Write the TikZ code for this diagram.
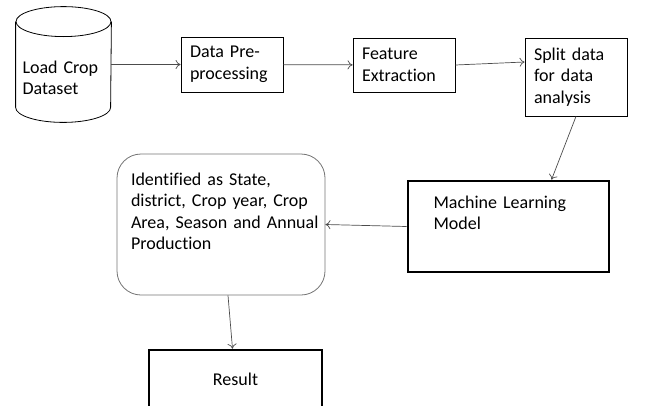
\documentclass[tikz,border=0pt]{standalone}
\usepackage{fontspec}
\setmainfont{Carlito}[Ligatures={NoCommon,NoContextual},WordSpace=0.75]
\usepackage{tikz}
\usetikzlibrary{shapes}
\usetikzlibrary{arrows.meta}
\definecolor{linegray}{rgb}{0.30,0.30,0.30}
\definecolor{roundgray}{rgb}{0.45,0.45,0.45}

\begin{document}
\begin{tikzpicture}[->,>={To[length=5pt,width=9pt]},linegray,line width=0.7pt,x=1pt,y=-1pt,font=\fontsize{18}{21.5}\selectfont]
	\tikzstyle{every node}=[draw=black,text=black,line width=0.8pt,align=left,inner sep=0pt,execute at begin node={\hyphenpenalty=10000}]
	\tikzstyle{thinbox}=[rectangle,minimum width=102pt,text width=84pt]
	\tikzstyle{thickbox}=[rectangle,line width=2.6pt]
	\tikzstyle{drum}=[-,black,line width=0.8pt]
	\clip (0,0) rectangle (658,405);
	\node (LOAD)[draw=none,minimum width=95pt,minimum height=115pt,text width=82pt,text height=43pt,text depth=25.5pt] at (63.5,64.5) {Load Crop\\Dataset};
	\node (PREP)[thinbox,minimum height=55pt] at (232,64.5) {Data Pre-\\processing};
	\node (FEAT)[thinbox,minimum height=54pt] at (404,65) {Feature\\Extraction};
	\node (SPLIT)[thinbox,minimum height=78pt] at (576,77) {Split data\\for data\\analysis};
	\node (MODEL)[thickbox,minimum width=201pt,minimum height=91pt,text width=150pt,text height=13pt,text depth=50pt] at (508.5,226.5) {Machine Learning\\Model};
	\node (IDENT)[rectangle,rounded corners=24pt,draw=roundgray,minimum width=208pt,minimum height=141pt,text width=180pt,text height=13pt,text depth=92pt] at (221,224.5) {Identified as State,\\\mbox{district, Crop year, Crop}\\\mbox{Area, Season and Annual}\\Production};
	\node (RESULT)[thickbox,minimum width=173pt,minimum height=58pt,align=center] at (235.5,379) {Result};

	% dataset drum round the LOAD node
	\draw[drum] ([yshift=-15pt]LOAD.north) ellipse [x radius=47.5pt,y radius=15pt];
	\draw[drum] ([yshift=-15pt]LOAD.north west) -- ([yshift=15pt]LOAD.south west) arc [start angle=180,end angle=360,x radius=47.5pt,y radius=15pt] -- ([yshift=-15pt]LOAD.north east);

	\draw (LOAD) to (PREP) ;
	\draw (PREP) to (FEAT) ;
	\draw (FEAT.east) to ([yshift=15pt]SPLIT.west) ;
	\draw (SPLIT.south) to ([xshift=43pt]MODEL.north) ;
	\draw (MODEL.west) to (IDENT.east) ;
	\draw ([xshift=7pt]IDENT.south) to ([xshift=-3pt]RESULT.north) ;
\end{tikzpicture}
\end{document}
